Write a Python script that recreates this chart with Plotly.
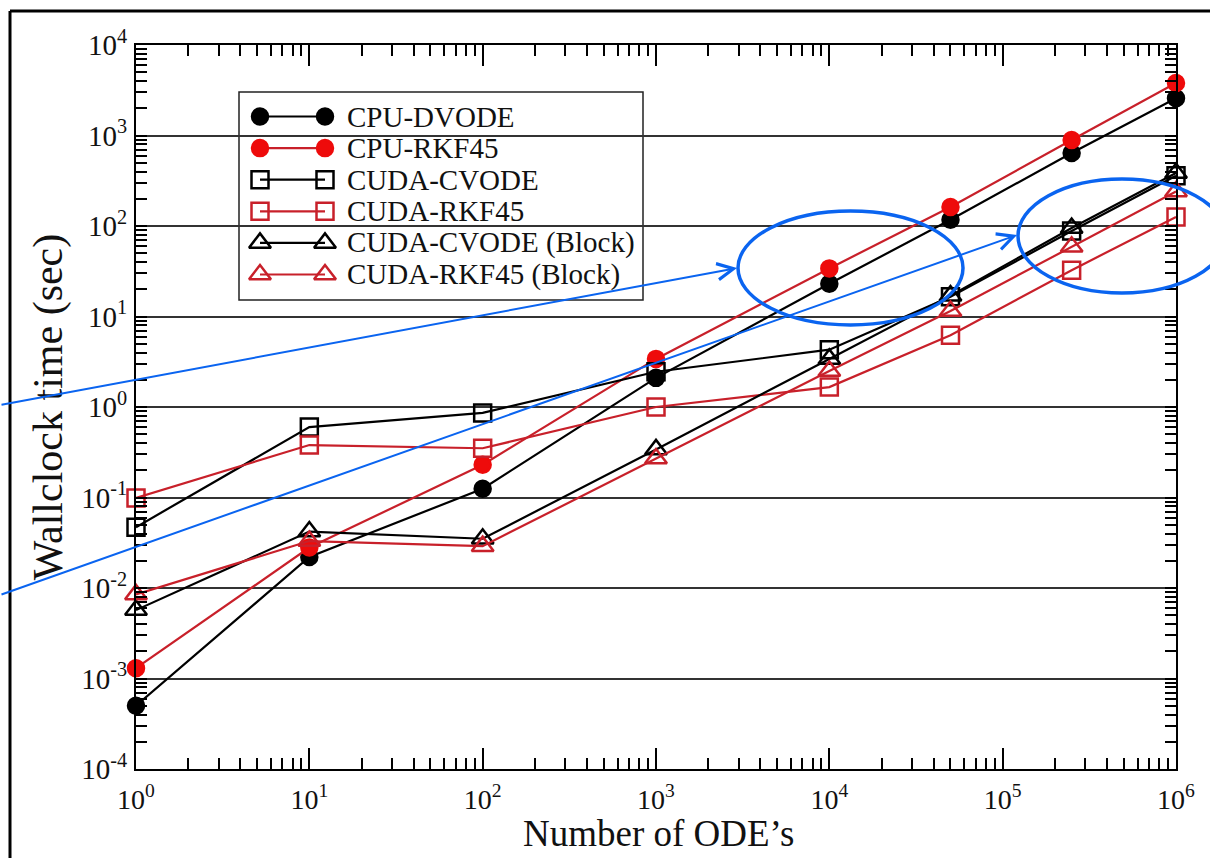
import plotly.graph_objects as go

# ---------------- data ----------------
n_odes = [1, 10, 100, 1000, 1e4, 5e4, 2.5e5, 1e6]

cpu_dvode = [5.0e-4, 0.022, 0.125, 2.1, 23, 117, 640, 2580]
cpu_rkf45 = [1.3e-3, 0.028, 0.23, 3.4, 34, 162, 890, 3800]
cuda_cvode = [0.047, 0.60, 0.86, 2.45, 4.3, 16.5, 88, 360]
cuda_rkf45 = [0.099, 0.38, 0.35, 1.0, 1.66, 6.2, 32.5, 126]
cuda_cvode_block = [5.7e-3, 0.042, 0.035, 0.34, 3.4, 17, 95, 385]
cuda_rkf45_block = [8.5e-3, 0.033, 0.029, 0.27, 2.5, 11.5, 59, 240]

series_names = ["CPU-DVODE", "CPU-RKF45", "CUDA-CVODE", "CUDA-RKF45",
                "CUDA-CVODE (Block)", "CUDA-RKF45 (Block)"]
series_values = [cpu_dvode, cpu_rkf45, cuda_cvode, cuda_rkf45,
                 cuda_cvode_block, cuda_rkf45_block]

x_tick_vals = [1, 10, 100, 1000, 1e4, 1e5, 1e6]
x_tick_text = ["10<sup>0</sup>", "10<sup>1</sup>", "10<sup>2</sup>", "10<sup>3</sup>",
               "10<sup>4</sup>", "10<sup>5</sup>", "10<sup>6</sup>"]
y_tick_vals = [1e-4, 1e-3, 1e-2, 1e-1, 1, 10, 100, 1000, 1e4]
y_tick_text = ["10<sup>-4</sup>", "10<sup>-3</sup>", "10<sup>-2</sup>", "10<sup>-1</sup>",
               "10<sup>0</sup>", "10<sup>1</sup>", "10<sup>2</sup>", "10<sup>3</sup>",
               "10<sup>4</sup>"]
x_title = "Number of ODE’s"
y_title = "Wallclock time (sec)"

# ---------------- styles ----------------
BLACK = "#000000"
RED_LINE = "#c8202a"
RED_FILL = "#ee0b0b"
BLUE = "#0a64f0"
FONT = "Liberation Serif"
TEXT = "#111111"

styles = [
    dict(line=BLACK, symbol="circle", mcolor=BLACK, mline=BLACK, size=16),
    dict(line=RED_LINE, symbol="circle", mcolor=RED_FILL, mline=RED_FILL, size=16),
    dict(line=BLACK, symbol="square-open", mcolor=BLACK, mline=BLACK, size=17),
    dict(line=RED_LINE, symbol="square-open", mcolor=RED_LINE, mline=RED_LINE, size=17),
    dict(line=BLACK, symbol="triangle-up-open", mcolor=BLACK, mline=BLACK, size=19),
    dict(line=RED_LINE, symbol="triangle-up-open", mcolor=RED_LINE, mline=RED_LINE, size=19),
]

# plot-area geometry in pixels
W_FIG, H_FIG = 1210, 858
L, R, T, B = 136, 1176, 45, 769


def px(x):
    return (x - L) / (R - L)


def py(y):
    return (B - y) / (B - T)


fig = go.Figure()

for name, vals, st in zip(series_names, series_values, styles):
    fig.add_trace(go.Scatter(
        x=n_odes, y=vals, name=name, mode="lines+markers",
        line=dict(color=st["line"], width=2.2),
        marker=dict(symbol=st["symbol"], size=st["size"], color=st["mcolor"],
                    line=dict(color=st["mline"], width=2.5)),
        cliponaxis=False, showlegend=False,
    ))

# ---------------- custom xmgrace-style legend ----------------
leg_x0, leg_x1 = px(239), px(643)
leg_y0, leg_y1 = py(300), py(92)
glyph_left, glyph_right, text_left = px(260), px(325), px(345)
row_px0, row_step = 116.5, 31.6

for i, (name, st) in enumerate(zip(series_names, styles)):
    ry = py(row_px0 + i * row_step)
    fig.add_trace(go.Scatter(
        x=[glyph_left, glyph_right], y=[ry, ry], xaxis="x2", yaxis="y2",
        mode="lines+markers", line=dict(color=st["line"], width=2.2),
        marker=dict(symbol=st["symbol"], size=st["size"], color=st["mcolor"],
                    line=dict(color=st["mline"], width=2.5)),
        cliponaxis=False, showlegend=False, hoverinfo="skip",
    ))
    fig.add_annotation(x=text_left, y=ry, xref="paper", yref="paper", text=name,
                       showarrow=False, xanchor="left", yanchor="middle",
                       font=dict(family=FONT, size=29, color=TEXT))

# x-axis title placed precisely
fig.add_annotation(x=px(658), y=py(833), xref="paper", yref="paper", text=x_title,
                   showarrow=False, xanchor="center", yanchor="middle",
                   font=dict(family=FONT, size=37, color=TEXT))

shapes = [
    dict(type="rect", xref="paper", yref="paper", x0=leg_x0, x1=leg_x1,
         y0=leg_y0, y1=leg_y1, line=dict(color="#222222", width=1.5),
         fillcolor="white", layer="below"),
    # outer image frame (top and left)
    dict(type="line", xref="paper", yref="paper", x0=px(10), x1=px(1212),
         y0=py(11), y1=py(11), line=dict(color=BLACK, width=3)),
    dict(type="line", xref="paper", yref="paper", x0=px(10), x1=px(10),
         y0=py(11), y1=py(860), line=dict(color=BLACK, width=3)),
    # blue ellipses
    dict(type="circle", xref="paper", yref="paper", x0=px(738), x1=px(963),
         y0=py(325), y1=py(211), line=dict(color=BLUE, width=3.5)),
    dict(type="circle", xref="paper", yref="paper", x0=px(1018), x1=px(1226),
         y0=py(293), y1=py(179), line=dict(color=BLUE, width=3.5)),
]

# blue arrows
arrows = [((737, 268), (0, 405)), ((1017, 235), (0, 595))]
for (tx, ty), (sx, sy) in arrows:
    fig.add_annotation(x=px(tx), y=py(ty), xref="paper", yref="paper", text="",
                       showarrow=True, ax=sx - tx, ay=sy - ty, axref="pixel", ayref="pixel",
                       arrowhead=5, arrowsize=1.6, arrowwidth=2, arrowcolor=BLUE,
                       standoff=0)

axis_common = dict(
    type="log", showline=True, linecolor=BLACK, linewidth=2, mirror="ticks",
    ticks="inside", tickcolor=BLACK, tickwidth=1.5, tickmode="array",
    zeroline=False,
)

fig.update_layout(
    width=W_FIG, height=H_FIG,
    margin=dict(l=L, r=W_FIG - R, t=T, b=H_FIG - B, autoexpand=False),
    paper_bgcolor="white", plot_bgcolor="white",
    shapes=shapes,
    xaxis=dict(**axis_common, range=[0, 6], tickvals=x_tick_vals, ticktext=x_tick_text,
               ticklen=21, showgrid=False, ticklabelstandoff=4,
               tickfont=dict(family=FONT, size=28, color=TEXT),
               minor=dict(ticks="inside", ticklen=11, tickcolor=BLACK, tickwidth=1.5,
                          dtick="D1", showgrid=False)),
    yaxis=dict(**axis_common, range=[-4, 4], tickvals=y_tick_vals, ticktext=y_tick_text,
               ticklen=11, showgrid=True, gridcolor="#333333", gridwidth=1.5,
               ticklabelstandoff=1,
               tickfont=dict(family=FONT, size=29, color=TEXT),
               minor=dict(ticks="inside", ticklen=11, tickcolor=BLACK, tickwidth=1.5,
                          dtick="D1", showgrid=False),
               title=dict(text=y_title, standoff=6,
                          font=dict(family=FONT, size=42, color=TEXT))),
    xaxis2=dict(overlaying="x", range=[0, 1], visible=False, fixedrange=True),
    yaxis2=dict(overlaying="y", range=[0, 1], visible=False, fixedrange=True),
    showlegend=False,
)

fig.write_html("out.html", config={"displayModeBar": False},
               post_script="document.body.style.margin='0';")
